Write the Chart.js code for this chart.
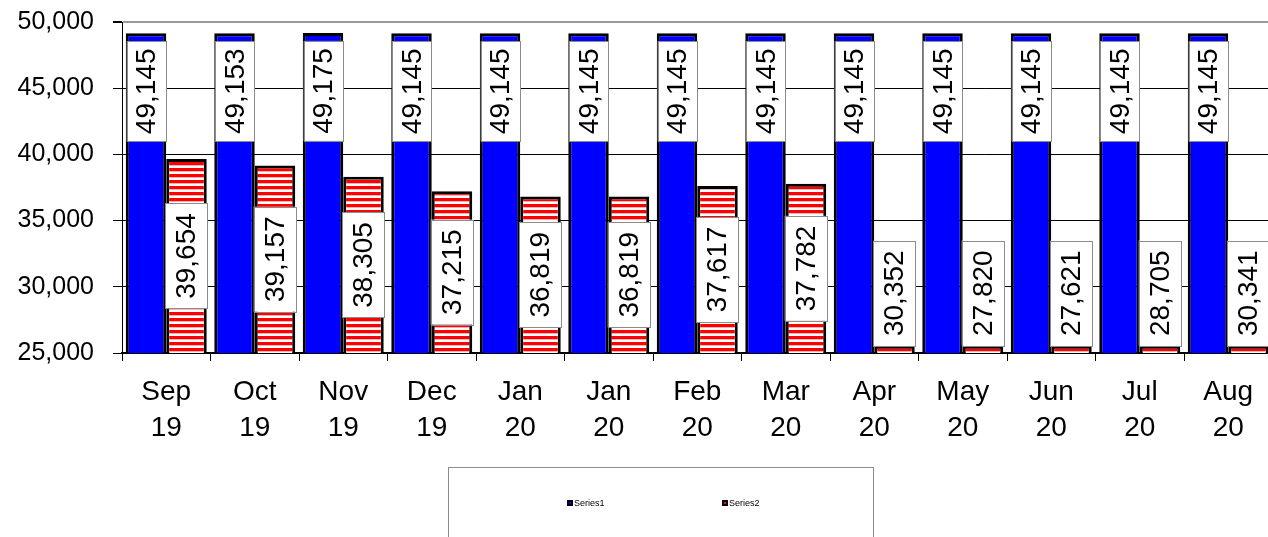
<!DOCTYPE html>
<html>
<head>
<meta charset="utf-8">
<script src="https://cdn.jsdelivr.net/npm/chart.js@4"></script>
<style>
  html, body { margin: 0; padding: 0; background: #fff; overflow: hidden; }
  #wrap { width: 1280px; height: 537px; }
</style>
</head>
<body>
<div id="wrap"><canvas id="chart" width="1280" height="537"></canvas></div>
<script>
// chart data
const months = [['Sep', '19'], ['Oct', '19'], ['Nov', '19'], ['Dec', '19'], ['Jan', '20'], ['Jan', '20'],
    ['Feb', '20'], ['Mar', '20'], ['Apr', '20'], ['May', '20'], ['Jun', '20'], ['Jul', '20'], ['Aug', '20']];
const series1 = [49145, 49153, 49175, 49145, 49145, 49145, 49145, 49145, 49145, 49145, 49145, 49145, 49145];
// labels printed on the striped bars
const series2 = [39654, 39157, 38305, 37215, 36819, 36819, 37617, 37782, 30352, 27820, 27621, 28705, 30341];
// height the striped bars are actually drawn to (last five sit just above the axis)
const series2Drawn = [39654, 39157, 38305, 37215, 36819, 36819, 37617, 37782, 25550, 25550, 25550, 25550, 25550];
const yTicks = [25000, 30000, 35000, 40000, 45000, 50000];

const FONT = '"Liberation Sans", Arial, sans-serif';

const makeStripes = () => {
    const c = document.createElement('canvas');
    c.width = 6;
    c.height = 6;
    const g = c.getContext('2d');
    g.fillStyle = '#ffffff';
    g.fillRect(0, 0, 6, 6);
    g.fillStyle = '#ff0000';
    g.fillRect(0, 0, 6, 3);
    g.fillStyle = '#ffb0b0';
    g.fillRect(0, 3, 6, 1);
    return c.getContext('2d').createPattern(c, 'repeat');
}

const drawBox = (ctx, cx, top, w, h, text) => {
    ctx.save();
    ctx.fillStyle = '#ffffff';
    ctx.fillRect(cx - w / 2, top, w, h);
    ctx.strokeStyle = '#8c8c8c';
    ctx.lineWidth = 1;
    ctx.strokeRect(Math.round(cx - w / 2) + 0.5, Math.round(top) + 0.5, Math.round(w), Math.round(h));
    ctx.translate(cx, top + h / 2);
    ctx.rotate(-Math.PI / 2);
    ctx.fillStyle = '#000';
    ctx.font = '28px ' + FONT;
    ctx.textAlign = 'center';
    ctx.textBaseline = 'middle';
    ctx.fillText(text, 0, 1);
    ctx.restore();
}

const fmt = (v) => v.toLocaleString('en-US');

const labelPlugin = {
    id: 'boxLabels',
    afterDatasetsDraw(chart) {
        const ctx = chart.ctx;
        const bottom = chart.chartArea.bottom;
        const m1 = chart.getDatasetMeta(0);
        m1.data.forEach((el, i) => {
            drawBox(ctx, el.x + 0.5, el.y + 8, el.width - 1, 100, fmt(series1[i]));
        });
        const m2 = chart.getDatasetMeta(1);
        m2.data.forEach((el, i) => {
            const h = 105;
            const base = Math.min(el.base, bottom);
            let top = (el.y + base) / 2 - h / 2;
            if (base - el.y < h) top = el.y - h;
            drawBox(ctx, el.x, top, el.width + 2, h, fmt(series2[i]));
        });
    },
    afterDraw(chart) {
        const ctx = chart.ctx;
        ctx.save();
        // legend frame
        ctx.strokeStyle = '#8c8c8c';
        ctx.lineWidth = 1;
        ctx.strokeRect(448.5, 467.5, 425, 100);
        const items = [
            { x: 567, label: chart.data.datasets[0].label, color: '#0000ff' },
            { x: 722, label: chart.data.datasets[1].label, color: '#ff0000' }
        ];
        ctx.font = '9px ' + FONT;
        ctx.textBaseline = 'middle';
        for (let it of items) {
            ctx.fillStyle = '#000';
            ctx.fillRect(it.x, 500, 6, 6);
            ctx.fillStyle = it.color;
            ctx.fillRect(it.x + 2, 502, 2, 2);
            ctx.fillStyle = '#000';
            ctx.fillText(it.label, it.x + 7, 503.5);
        }
        ctx.restore();
    }
};

const ctx = document.getElementById('chart').getContext('2d');
const chart = new Chart(ctx, {
    type: 'bar',
    data: {
        labels: months,
        datasets: [
            {
                label: 'Series1',
                data: series1,
                backgroundColor: '#0000ff',
                borderColor: '#000000',
                borderWidth: 3,
                borderSkipped: false,
                categoryPercentage: 0.915,
                barPercentage: 1
            },
            {
                label: 'Series2',
                data: series2Drawn,
                backgroundColor: makeStripes(),
                borderColor: '#000000',
                borderWidth: 3,
                borderSkipped: false,
                categoryPercentage: 0.915,
                barPercentage: 1
            }
        ]
    },
    options: {
        responsive: false,
        animation: false,
        devicePixelRatio: 1,
        layout: { padding: { left: 0, top: 22, right: 7.5, bottom: 0 } },
        plugins: {
            legend: { display: false },
            tooltip: { enabled: false }
        },
        scales: {
            x: {
                grid: {
                    offset: true,
                    drawOnChartArea: false,
                    drawTicks: true,
                    tickLength: 8,
                    color: '#000'
                },
                border: { color: '#000', width: 2 },
                ticks: {
                    color: '#000',
                    font: { family: FONT, size: 28, lineHeight: 1.3 },
                    maxRotation: 0,
                    autoSkip: false,
                    padding: 13
                },
                afterFit: (s) => { s.height = 184; s.paddingLeft = 0; s.paddingRight = 0; }
            },
            y: {
                min: 25000,
                max: 50000,
                afterBuildTicks: (s) => { s.ticks = yTicks.map(v => ({ value: v })); },
                grid: {
                    color: (c) => c.tick && c.tick.value === 50000 ? '#999999' : '#000000',
                    lineWidth: (c) => c.tick && c.tick.value === 50000 ? 2 : 1,
                    tickLength: 9,
                    tickColor: '#000'
                },
                border: { color: '#000', width: 1 },
                ticks: {
                    color: '#000',
                    font: { family: FONT, size: 25 },
                    padding: 19,
                    callback: (v) => fmt(v)
                },
                afterFit: (s) => { s.width = 122; s.paddingTop = 0; s.paddingBottom = 0; }
            }
        }
    },
    plugins: [labelPlugin]
});
</script>
</body>
</html>
